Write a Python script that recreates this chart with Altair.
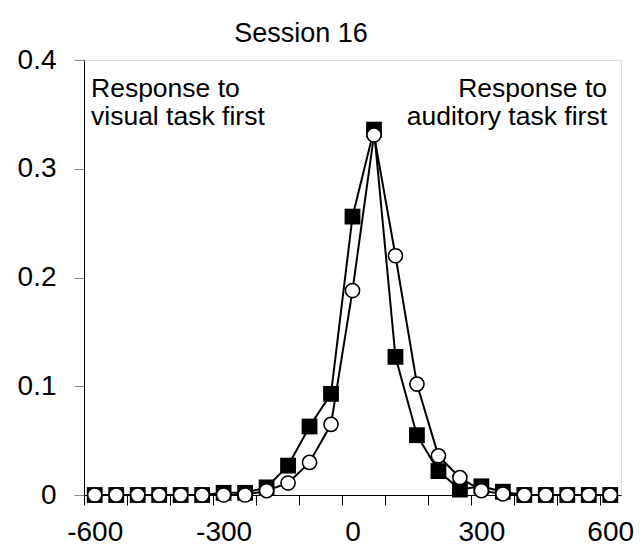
import altair as alt
import pandas as pd

# SOA categories (ms)
soa = [-600, -550, -500, -450, -400, -350, -300, -250, -200, -150, -100, -50,
       0, 50, 100, 150, 200, 250, 300, 350, 400, 450, 500, 550, 600]
# filled squares
squares = [0, 0, 0, 0, 0, 0, 0.002, 0.002, 0.007, 0.027, 0.063, 0.093,
           0.256, 0.336, 0.127, 0.055, 0.022, 0.005, 0.008, 0.003, 0, 0, 0, 0, 0]
# open circles
circles = [0, 0, 0, 0, 0, 0, 0, 0, 0.004, 0.011, 0.030, 0.065,
           0.188, 0.331, 0.220, 0.102, 0.036, 0.016, 0.004, 0.001, 0, 0, 0, 0, 0]
# category boundaries (tick marks between categories)
boundaries = [-625, -575, -525, -475, -425, -375, -325, -275, -225, -175, -125, -75, -25,
              25, 75, 125, 175, 225, 275, 325, 375, 425, 475, 525, 575, 625]
y_ticks = [0, 0.1, 0.2, 0.3, 0.4]
title_text = "Session 16"
left_note = ["Response to", "visual task first"]
right_note = ["Response to", "auditory task first"]

df = pd.DataFrame({"soa": soa, "squares": squares, "circles": circles})

FONT = "Liberation Sans"
W, H = 537, 435

xscale = alt.Scale(domain=[-625, 625], nice=False, zero=False)
yscale = alt.Scale(domain=[0, 0.4], nice=False, zero=True)

xaxis = alt.Axis(
    values=boundaries, tickSize=10, tickColor="black", tickWidth=1,
    domainColor="black", domainWidth=1,
    labelExpr="(datum.value + 25) % 300 == 0 ? '' + (datum.value + 25) : ''",
    labelOffset=10.7, labelFontSize=28, labelFont=FONT, labelColor="black",
    labelPadding=13, grid=False, title=None, labelOverlap=False, labelFlush=False,
)
yaxis = alt.Axis(
    values=y_ticks, tickSize=10, tickColor="#888888", tickWidth=1,
    domainColor="black", domainWidth=1,
    labelExpr="datum.value == 0 ? '0' : format(datum.value, '.1f')",
    labelFontSize=28, labelFont=FONT, labelColor="black",
    labelPadding=18, grid=False, title=None, labelOverlap=False, labelFlush=False,
)

base = alt.Chart(df)

line_sq = base.mark_line(color="black", strokeWidth=2).encode(
    x=alt.X("soa:Q", scale=xscale, axis=xaxis),
    y=alt.Y("squares:Q", scale=yscale, axis=yaxis),
)
pts_sq = base.mark_point(shape="square", filled=True, color="black", size=250, opacity=1).encode(
    x=alt.X("soa:Q", scale=xscale),
    y=alt.Y("squares:Q", scale=yscale),
)
line_ci = base.mark_line(color="black", strokeWidth=2).encode(
    x=alt.X("soa:Q", scale=xscale),
    y=alt.Y("circles:Q", scale=yscale),
)
pts_ci = base.mark_point(shape="circle", filled=True, fill="white", stroke="black",
                         strokeWidth=1.6, size=200, opacity=1).encode(
    x=alt.X("soa:Q", scale=xscale),
    y=alt.Y("circles:Q", scale=yscale),
)

one = pd.DataFrame({"t": [0]})
ann_left = alt.Chart(one).mark_text(
    align="left", baseline="alphabetic", fontSize=26.5, font=FONT, color="black", lineHeight=28
).encode(x=alt.value(7), y=alt.value(37), text=alt.value(left_note))

ann_right = alt.Chart(one).mark_text(
    align="right", baseline="alphabetic", fontSize=26.5, font=FONT, color="black", lineHeight=28
).encode(x=alt.value(523), y=alt.value(37), text=alt.value(right_note))

title = alt.Chart(one).mark_text(
    align="center", baseline="alphabetic", fontSize=27, font=FONT, color="black"
).encode(x=alt.value(217), y=alt.value(-18), text=alt.value(title_text))

chart = alt.layer(line_sq, pts_sq, line_ci, pts_ci, ann_left, ann_right, title).properties(
    width=W, height=H,
    autosize=alt.AutoSizeParams(type="none"),
    padding={"left": 84, "top": 60, "right": 21, "bottom": 64},
).configure_view(stroke="#888888", strokeWidth=1).configure(background="white")

chart.save("out.html", embed_options={"renderer": "svg", "actions": False})
